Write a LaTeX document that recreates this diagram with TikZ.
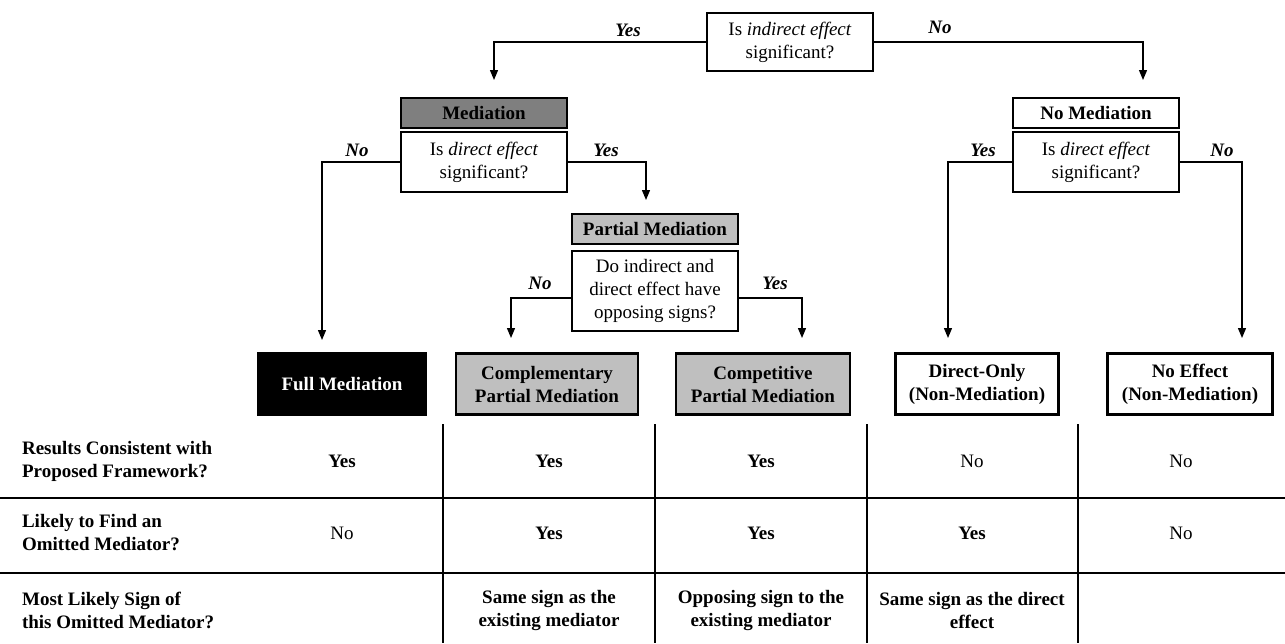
\documentclass[tikz,border=0pt]{standalone}
\usepackage{fontspec}
\setmainfont{Liberation Serif}
\usetikzlibrary{arrows.meta}

\definecolor{darkfill}{HTML}{7F7F7F}
\definecolor{lightfill}{HTML}{BFBFBF}

\tikzset{
  txt/.style={font=\fontsize{9.5}{11.5}\selectfont},
  box/.style={txt, draw, line width=1.25pt, align=center, inner sep=1pt},
  head/.style={box, font=\fontsize{9.5}{11.5}\selectfont\bfseries, minimum width=83pt, minimum height=15pt},
  qbox/.style={box, minimum width=83pt, minimum height=30pt},
  outcome/.style={box, font=\fontsize{9.5}{11.5}\selectfont\bfseries, minimum height=30.5pt},
  lbl/.style={font=\fontsize{9.5}{11.5}\selectfont\bfseries\itshape},
  arr/.style={-{Triangle[length=5pt,width=4pt]}, line width=0.65pt},
  grid/.style={line width=0.75pt},
  rowlbl/.style={txt, font=\fontsize{9.5}{11.5}\selectfont\bfseries, align=left, anchor=west},
  cell/.style={txt, align=center}
}

\begin{document}
\begin{tikzpicture}[x=0.5pt, y=-0.5pt]
    \useasboundingbox (0,0) rectangle (1285,643);

    % first question
    \node[qbox, minimum height=29pt] (indirect) at (790,42) {Is \textit{indirect effect}\\significant?};
    \node[lbl] (yesA) at (628,30) {Yes};
    \node[lbl] (noA) at (940,27) {No};

    % mediation branch
    \node[head, fill=darkfill] (med) at (484,113) {Mediation};
    \node[qbox] (medq) at (484,162) {Is \textit{direct effect}\\significant?};
    \node[lbl] (noB) at (357,150) {No};
    \node[lbl] (yesB) at (606,150) {Yes};

    \node[head, fill=lightfill] (partial) at (655,229) {Partial Mediation};
    \node[qbox, minimum height=40pt] (partialq) at (655,291) {Do indirect and\\direct effect have\\opposing signs?};
    \node[lbl] (noC) at (540,283) {No};
    \node[lbl] (yesC) at (775,283) {Yes};

    % no mediation branch
    \node[head] (nomed) at (1096,113) {No Mediation};
    \node[qbox] (nomedq) at (1096,162) {Is \textit{direct effect}\\significant?};
    \node[lbl] (yesD) at (983,150) {Yes};
    \node[lbl] (noD) at (1222,150) {No};

    % outcomes
    \node[outcome, fill=black, text=white, minimum width=83.5pt] (full) at (342,384) {Full Mediation};
    \node[outcome, fill=lightfill, minimum width=91pt] (compl) at (547,384) {Complementary\\Partial Mediation};
    \node[outcome, fill=lightfill, minimum width=87pt] (compet) at (763,384) {Competitive\\Partial Mediation};
    \node[outcome, minimum width=81.5pt] (direct) at (977,384) {Direct-Only\\(Non-Mediation)};
    \node[outcome, minimum width=82.5pt] (noeff) at (1190,384) {No Effect\\(Non-Mediation)};

    % arrow ends
    \coordinate (tipA) at (494,80);
    \coordinate (tipB) at (1143,80);
    \coordinate (tipC) at (322,340);
    \coordinate (tipD) at (646,200);
    \coordinate (tipE) at (511,338);
    \coordinate (tipF) at (802,338);
    \coordinate (tipG) at (948,338);
    \coordinate (tipH) at (1242,338);

    \draw[arr] (indirect.west) -| (tipA);
    \draw[arr] (indirect.east) -| (tipB);
    \draw[arr] (medq.west) -| (tipC);
    \draw[arr] (medq.east) -| (tipD);
    \draw[arr] ([yshift=-3.5pt]partialq.west) -| (tipE);
    \draw[arr] ([yshift=-3.5pt]partialq.east) -| (tipF);
    \draw[arr] (nomedq.west) -| (tipG);
    \draw[arr] (nomedq.east) -| (tipH);

    % table
    \draw[grid] (0,498) -- (1285,498);
    \draw[grid] (0,573) -- (1285,573);
    \foreach \x in {443,655,867,1078}
        \draw[grid] (\x,424) -- (\x,643);

    \node[rowlbl] (rowA) at (15,461) {Results Consistent with\\Proposed Framework?};
    \node[rowlbl] (rowB) at (15,533) {Likely to Find an\\Omitted Mediator?};
    \node[rowlbl] (rowC) at (15,610) {Most Likely Sign of\\this Omitted Mediator?};

    \node[cell] (a1) at (342,461) {\textbf{Yes}};
    \node[cell] (a2) at (549,461) {\textbf{Yes}};
    \node[cell] (a3) at (761,461) {\textbf{Yes}};
    \node[cell] (a4) at (972,461) {No};
    \node[cell] (a5) at (1181,461) {No};

    \node[cell] (b1) at (342,533) {No};
    \node[cell] (b2) at (549,533) {\textbf{Yes}};
    \node[cell] (b3) at (761,533) {\textbf{Yes}};
    \node[cell] (b4) at (972,533) {\textbf{Yes}};
    \node[cell] (b5) at (1181,533) {No};

    \node[cell, font=\fontsize{9.5}{11.5}\selectfont\bfseries] (c2) at (549,610) {Same sign as the\\existing mediator};
    \node[cell, font=\fontsize{9.5}{11.5}\selectfont\bfseries] (c3) at (761,610) {Opposing sign to the\\existing mediator};
    \node[cell, font=\fontsize{9.5}{11.5}\selectfont\bfseries] (c4) at (972,610) {Same sign as the direct\\effect};
\end{tikzpicture}
\end{document}
